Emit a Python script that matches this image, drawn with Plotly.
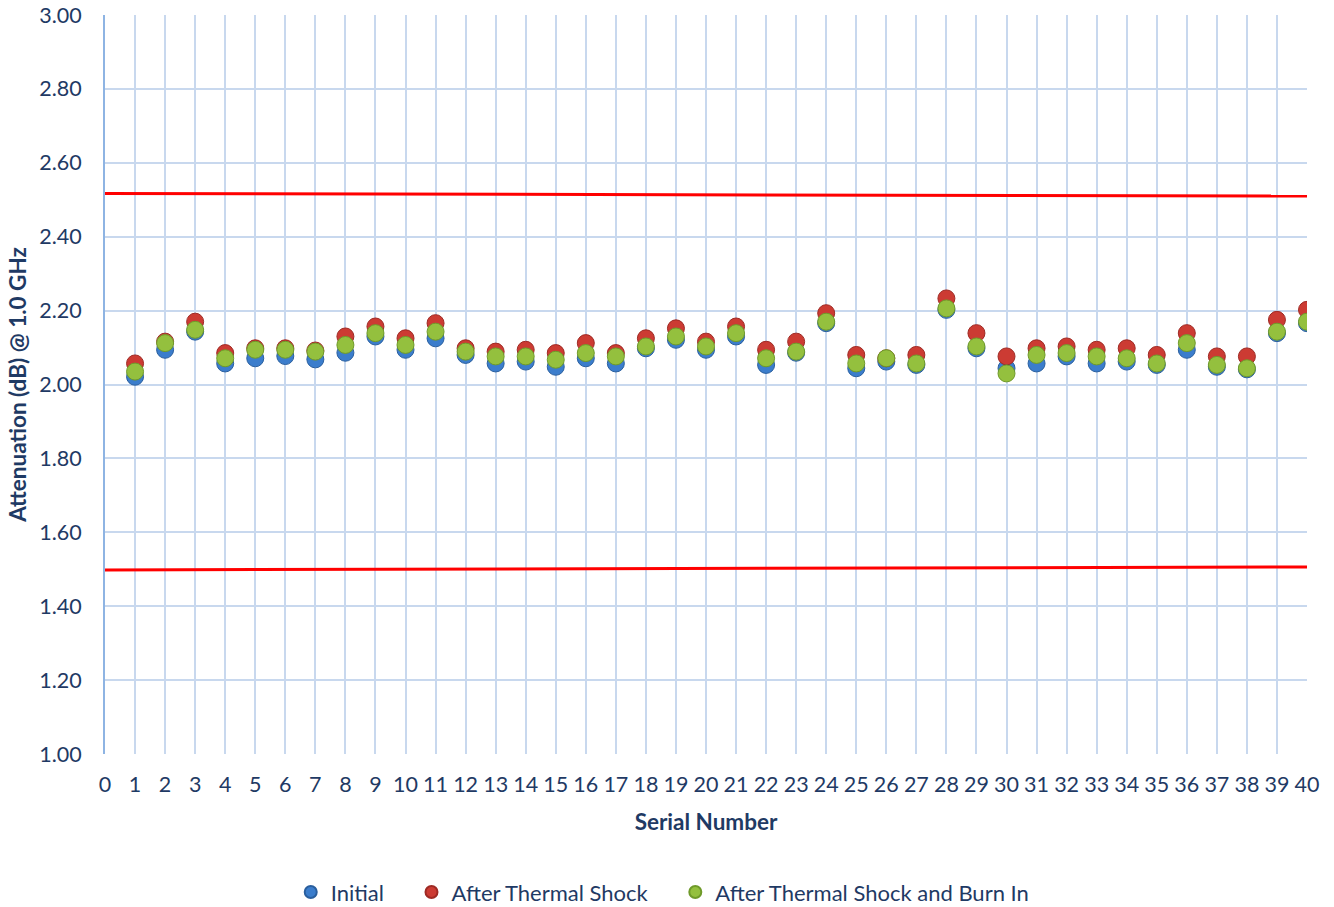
import plotly.graph_objects as go

serial = list(range(1, 41))
initial = [2.021, 2.094, 2.143, 2.057, 2.071, 2.077, 2.068, 2.086, 2.130, 2.094,
           2.125, 2.080, 2.057, 2.062, 2.048, 2.071, 2.057, 2.098, 2.121, 2.094,
           2.130, 2.053, 2.086, 2.166, 2.044, 2.062, 2.053, 2.202, 2.098, 2.044,
           2.057, 2.076, 2.057, 2.062, 2.053, 2.094, 2.048, 2.041, 2.139, 2.166]
thermal = [2.057, 2.116, 2.170, 2.085, 2.098, 2.098, 2.092, 2.130, 2.157, 2.125,
           2.166, 2.098, 2.089, 2.094, 2.085, 2.112, 2.085, 2.125, 2.152, 2.116,
           2.157, 2.094, 2.116, 2.193, 2.080, 2.071, 2.080, 2.233, 2.139, 2.076,
           2.098, 2.103, 2.094, 2.098, 2.080, 2.139, 2.076, 2.076, 2.175, 2.202]
burnin = [2.035, 2.112, 2.148, 2.071, 2.094, 2.094, 2.089, 2.107, 2.139, 2.107,
          2.143, 2.089, 2.076, 2.076, 2.067, 2.085, 2.076, 2.103, 2.130, 2.103,
          2.139, 2.071, 2.089, 2.170, 2.057, 2.071, 2.057, 2.206, 2.103, 2.030,
          2.080, 2.085, 2.076, 2.071, 2.057, 2.112, 2.053, 2.044, 2.143, 2.170]
limit_x = [0, 40]
upper_limit = [2.517, 2.510]
lower_limit = [1.498, 1.506]

FONT = "Lato"
TXT = "#1f3a64"
PAD = "&nbsp;" * 4

fig = go.Figure()
fig.add_trace(go.Scatter(x=limit_x, y=upper_limit, mode="lines",
                         line=dict(color="#ff0000", width=3), showlegend=False, hoverinfo="skip"))
fig.add_trace(go.Scatter(x=limit_x, y=lower_limit, mode="lines",
                         line=dict(color="#ff0000", width=3), showlegend=False, hoverinfo="skip"))

series = [("Initial" + PAD, initial, "#3b7dcc", "#2a5f9e"),
          ("After Thermal Shock" + PAD, thermal, "#cc3b33", "#9e2a24"),
          ("After Thermal Shock and Burn In", burnin, "#94c03e", "#6f9a2a")]
for name, vals, col, edge in series:
    fig.add_trace(go.Scatter(x=serial, y=vals, mode="markers", name=name,
                             marker=dict(size=17, color=col,
                                         line=dict(color=edge, width=1))))

fig.update_layout(
    width=1334, height=907,
    margin=dict(l=105, r=27, t=15, b=153, autoexpand=False),
    paper_bgcolor="white", plot_bgcolor="white",
    font=dict(family=FONT, size=21, color=TXT),
    legend=dict(orientation="h", x=0.464, xanchor="center", y=-0.187, yanchor="middle",
                font=dict(family=FONT, size=22, color=TXT), itemsizing="constant",
                traceorder="normal", itemwidth=30),
    showlegend=True,
)
fig.update_xaxes(range=[0, 40], tickmode="linear", tick0=0, dtick=1,
                 showgrid=True, gridcolor="#c8d8ee", gridwidth=1.5,
                 showline=False, zeroline=False, ticks="", automargin=False,
                 ticklabelstandoff=15,
                 tickfont=dict(family=FONT, size=21.5, color=TXT),
                 title=dict(text="<b>Serial Number</b>", font=dict(family=FONT, size=22.5, color=TXT),
                            standoff=18))
fig.update_yaxes(range=[1.0, 3.0], tickmode="linear", tick0=1.0, dtick=0.2, tickformat=".2f",
                 showgrid=True, gridcolor="#c8d8ee", gridwidth=1.5,
                 showline=True, linecolor="#8eb4e3", linewidth=2, zeroline=False, ticks="",
                 automargin=False, ticklabelstandoff=17,
                 tickfont=dict(family=FONT, size=21.5, color=TXT),
                 title=dict(text="<b>Attenuation (dB) @ 1.0 GHz</b>",
                            font=dict(family=FONT, size=22.5, color=TXT), standoff=6))

# remove the default 8px page margin so the figure fills the window exactly
fig.write_html("out.html", config={"displayModeBar": False},
               post_script="document.body.style.margin='0';")
